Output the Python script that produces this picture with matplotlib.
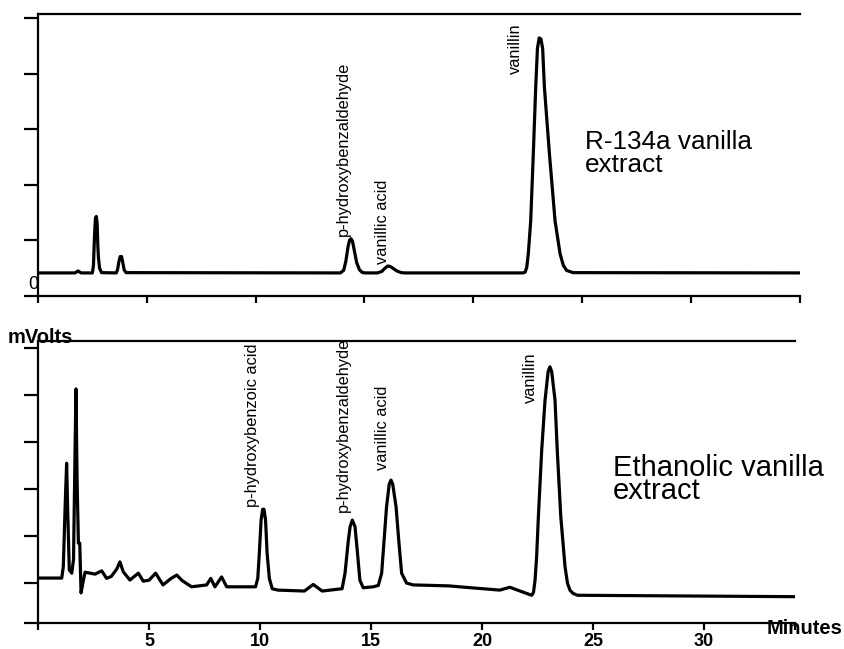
import matplotlib
matplotlib.use('Agg')
import matplotlib.pyplot as plt

plt.rcParams['font.family'] = ['Liberation Sans', 'DejaVu Sans']

# R-134a extract trace (minutes, signal)
top_time = [0, 1.70, 1.84, 1.98, 2.50, 2.55, 2.60, 2.64, 2.68, 2.72, 2.75, 2.78, 2.83, 2.92,
            3.60, 3.66, 3.72, 3.78, 3.84, 3.90, 3.96, 4.05,
            13.9, 14.05, 14.15, 14.25, 14.32, 14.39, 14.46, 14.55, 14.65, 14.78, 14.92, 15.1,
            15.6, 15.8, 15.95, 16.08, 16.2, 16.35, 16.5, 16.7, 16.9,
            22.30, 22.40, 22.47, 22.54, 22.65, 22.77, 22.88, 22.96, 23.04, 23.12, 23.20, 23.28,
            23.51, 23.77, 24.0, 24.15, 24.3, 24.6, 35.0]
top_signal = [0.415, 0.415, 0.45, 0.415, 0.415, 0.55, 1.10, 1.40, 1.43, 1.30, 0.90, 0.68, 0.50, 0.42,
              0.415, 0.48, 0.62, 0.71, 0.71, 0.60, 0.47, 0.42,
              0.415, 0.46, 0.62, 0.88, 1.00, 1.03, 0.98, 0.80, 0.60, 0.47, 0.42, 0.415,
              0.415, 0.44, 0.50, 0.54, 0.53, 0.49, 0.45, 0.42, 0.415,
              0.415, 0.43, 0.52, 0.76, 1.35, 2.56, 3.75, 4.45, 4.64, 4.62, 4.45, 3.75,
              2.56, 1.35, 0.76, 0.55, 0.46, 0.42, 0.415]

# Ethanolic extract trace (minutes, signal)
bottom_time = [0, 1.07, 1.14, 1.22, 1.29, 1.34, 1.41, 1.52, 1.60, 1.66, 1.71, 1.76, 1.82, 1.88, 1.94,
               2.02, 2.12, 2.35, 2.57, 2.87, 3.09, 3.30, 3.55, 3.69, 3.84, 4.14, 4.52, 4.74, 5.0,
               5.30, 5.63, 6.0, 6.25, 6.5, 6.92, 7.6, 7.78, 7.97, 8.27, 8.5,
               9.80, 9.90, 9.97, 10.05, 10.12, 10.18, 10.25, 10.32, 10.42, 10.55, 10.8,
               12.0, 12.4, 12.8, 13.7, 13.83, 13.98, 14.06, 14.16, 14.28, 14.38, 14.5, 14.65,
               15.1, 15.33, 15.48, 15.59, 15.7, 15.82, 15.9, 15.98, 16.13, 16.25, 16.38, 16.6, 16.9,
               18.5, 19.5, 20.8, 21.26, 21.6, 22.24, 22.32, 22.39, 22.46, 22.54, 22.69, 22.84, 22.98,
               23.06, 23.14, 23.29, 23.39, 23.55, 23.74, 23.85, 23.96, 24.1, 24.3, 34.1]
bottom_signal = [0.106, 0.106, 0.35, 1.6, 2.55, 1.5, 0.28, 0.21, 0.5, 2.5, 4.13, 2.2, 0.85, 0.85, -0.21,
                 0.0, 0.23, 0.21, 0.19, 0.26, 0.10, 0.14, 0.30, 0.45, 0.24, 0.064, 0.21, 0.04, 0.06,
                 0.21, -0.04, 0.10, 0.17, 0.05, -0.08, -0.04, 0.10, -0.08, 0.13, -0.08,
                 -0.08, 0.1, 0.64, 1.34, 1.57, 1.57, 1.34, 0.64, 0.1, -0.12, -0.15,
                 -0.17, -0.03, -0.17, -0.12, 0.21, 0.91, 1.2, 1.34, 1.2, 0.70, 0.06, -0.1,
                 -0.08, -0.05, 0.21, 0.91, 1.62, 2.1, 2.19, 2.1, 1.62, 0.91, 0.21, 0.0, -0.04,
                 -0.06, -0.1, -0.15, -0.09, -0.15, -0.26, -0.2, 0.06, 0.55, 1.41, 2.83, 3.89, 4.5,
                 4.6, 4.5, 3.89, 2.83, 1.41, 0.35, 0.0, -0.15, -0.22, -0.26, -0.29]

# peak labels (name, minutes, signal at label bottom)
top_labels = ['p-hydroxybenzaldehyde', 'vanillic acid', 'vanillin']
top_label_x = [14.02, 15.82, 21.93]
top_label_y = [1.08, 0.58, 4.0]
bottom_labels = ['p-hydroxybenzoic acid', 'p-hydroxybenzaldehyde', 'vanillic acid', 'vanillin']
bottom_label_x = [9.64, 13.74, 15.54, 22.16]
bottom_label_y = [1.62, 1.51, 2.4, 3.83]

minute_ticks = [5, 10, 15, 20, 25, 30]

W, H = 844.0, 649.0
fig = plt.figure(figsize=(8.44, 6.49), dpi=100)
ax1 = fig.add_axes([38 / W, 1 - 296 / H, (800 - 38) / W, (296 - 14) / H])
ax2 = fig.add_axes([38 / W, 1 - 623 / H, (795 - 38) / W, (623 - 341) / H])

def style(ax):
    for s in ['left', 'bottom', 'top']:
        ax.spines[s].set_linewidth(1.6)
    ax.spines['right'].set_visible(False)
    ax.tick_params(axis='y', direction='out', length=10, width=1.6, labelleft=False)
    ax.tick_params(axis='x', direction='out', length=5, width=1.6, pad=2)

ax1.plot(top_time, top_signal, color='black', lw=2.3, solid_joinstyle='round')
ax1.set_xlim(0, 35.03)
ax1.set_ylim(0, 5.07)
ax1.set_yticks([0, 1, 2, 3, 4, 5])
ax1.set_xticks([0] + minute_ticks + [35.03])
ax1.set_xticklabels([])
style(ax1)
for name, x, y in zip(top_labels, top_label_x, top_label_y):
    ax1.text(x, y, name, rotation=90, ha='center', va='bottom', fontsize=11.8)
fig.text(585 / W, 1 - 172 / H, 'R-134a vanilla\nextract', fontsize=18.8, va='baseline',
         ha='left', linespacing=0.93)
ax1.text(-0.23, 0.2, '0', fontsize=13, ha='center', va='center', clip_on=False, zorder=0)

ax2.plot(bottom_time, bottom_signal, color='black', lw=2.3, solid_joinstyle='round')
ax2.set_xlim(0, 34.1)
ax2.set_ylim(-0.85, 5.15)
ax2.set_yticks([-0.85, 0, 1, 2, 3, 4, 5])
ax2.set_xticks([0] + minute_ticks + [34.1])
ax2.set_xticklabels([''] + [str(m) for m in minute_ticks] + [''], fontsize=13, fontweight='bold')
style(ax2)
for name, x, y in zip(bottom_labels, bottom_label_x, bottom_label_y):
    ax2.text(x, y, name, rotation=90, ha='center', va='bottom', fontsize=11.8)
fig.text(613 / W, 1 - 499 / H, 'Ethanolic vanilla\nextract', fontsize=21, va='baseline',
         ha='left', linespacing=0.78)

fig.text(8 / W, 1 - 343 / H, 'mVolts', fontsize=14.5, fontweight='bold', va='baseline', ha='left')
fig.text(843 / W, 1 - 634 / H, 'Minutes', fontsize=14.5, fontweight='bold', va='baseline', ha='right')

fig.savefig('out.png', dpi=100)
